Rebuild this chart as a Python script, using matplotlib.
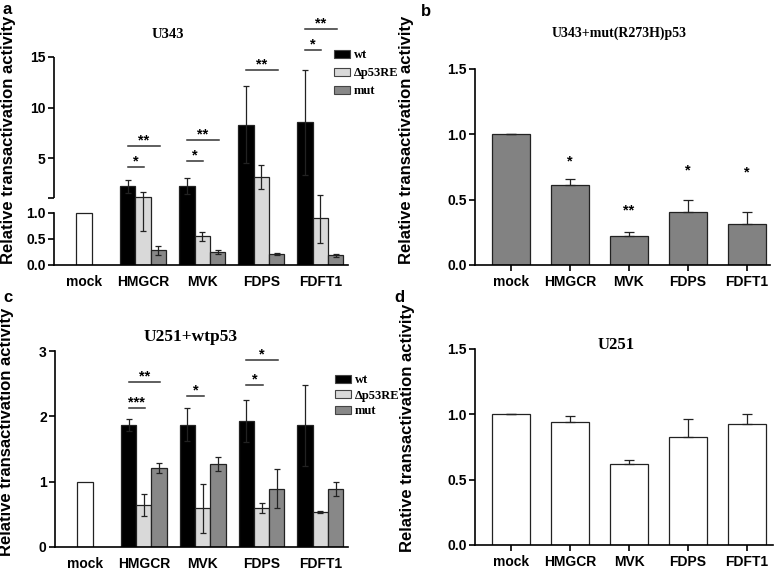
import numpy as np
import matplotlib.pyplot as plt
from matplotlib.patches import Patch

# категории и серии
cats = ['mock', 'HMGCR', 'MVK', 'FDPS', 'FDFT1']
series = ['wt', '\u0394p53RE', 'mut']
series_colors = ['#000000', '#d9d9d9', '#888888']

# panel a, U343
a_mock = 1.0
a_wt = [2.24, 2.3, 8.3, 8.55]
a_wt_err = [0.62, 0.8, 3.8, 5.2]
a_del = [1.15, 0.55, 3.12, 0.9]
a_del_err = [0.5, 0.09, 1.18, 0.48]
a_mut = [0.28, 0.25, 0.21, 0.19]
a_mut_err = [0.09, 0.03, 0.02, 0.03]
# (категория, от серии, до серии, y, метка)
a_brackets = [(1, 0, 1, 4.11, '*'), (1, 0, 2, 6.25, '**'),
              (2, 0, 1, 4.7, '*'), (2, 0, 2, 6.84, '**'),
              (3, 0, 2, 13.75, '**'),
              (4, 0, 1, 15.72, '*'), (4, 0, 2, 17.8, '**')]

# panel b, U343+mut(R273H)p53
b_vals = [1.0, 0.613, 0.222, 0.409, 0.314]
b_err = [0, 0.047, 0.034, 0.085, 0.09]
b_stars = ['', '*', '**', '*', '*']
b_star_y = [0, 0.79, 0.42, 0.72, 0.71]

# panel c, U251+wtp53
c_mock = 1.0
c_wt = [1.865, 1.875, 1.93, 1.86]
c_wt_err = [0.09, 0.26, 0.32, 0.62]
c_del = [0.64, 0.59, 0.60, 0.537]
c_del_err = [0.17, 0.375, 0.077, 0.02]
c_mut = [1.21, 1.27, 0.895, 0.884]
c_mut_err = [0.075, 0.1, 0.3, 0.11]
c_brackets = [(1, 0, 1, 2.13, '***'), (1, 0, 2, 2.53, '**'),
              (2, 0, 1, 2.31, '*'),
              (3, 0, 1, 2.48, '*'), (3, 0, 2, 2.86, '*')]

# panel d, U251
d_vals = [1.0, 0.94, 0.621, 0.825, 0.928]
d_err = [0, 0.044, 0.033, 0.136, 0.074]

W, H = 777, 571
SANS = 'Liberation Sans'
SERIF = 'Liberation Serif'
plt.rcParams['font.family'] = SANS


def px_axes(fig, left, right, top, bottom):
    return fig.add_axes([left / W, 1 - bottom / H, (right - left) / W, (bottom - top) / H])


def style(ax, xticks_visible):
    for s in ['top', 'right']:
        ax.spines[s].set_visible(False)
    for s in ['left', 'bottom']:
        ax.spines[s].set_linewidth(1.2)
    ax.tick_params(axis='y', direction='out', length=4, width=1.2, labelsize=10, pad=2)
    ax.tick_params(axis='x', direction='out', length=4 if xticks_visible else 0,
                   width=1.2, labelsize=10, pad=3 if xticks_visible else 7)
    ax.set_xticks(range(len(cats)))
    ax.set_xticklabels(cats)
    for lab in ax.get_xticklabels() + ax.get_yticklabels():
        lab.set_fontweight('bold')


def grouped(ax, mock, vals, errs, w=0.26):
    ax.bar(0, mock, w, color='white', edgecolor='#222222', linewidth=0.9)
    x = np.arange(1, len(cats))
    for k in range(3):
        xs = x + (k - 1) * w
        ax.bar(xs, vals[k], w, color=series_colors[k], edgecolor='#222222', linewidth=0.9)
        ax.errorbar(xs, vals[k], yerr=errs[k], fmt='none', ecolor='#222222',
                    elinewidth=0.9, capsize=2.5, capthick=0.9)


def brackets(ax, items, w=0.26):
    for ci, s0, s1, y, lab in items:
        x0 = ci + (s0 - 1) * w
        x1 = ci + (s1 - 1) * w + 0.02
        ax.plot([x0, x1], [y, y], color='#333333', lw=1.1, clip_on=False)
        ax.annotate(lab, ((x0 + x1) / 2, y), xytext=(0, -1), textcoords='offset points',
                    ha='center', va='bottom', fontsize=10.5, fontweight='bold',
                    annotation_clip=False)


fig = plt.figure(figsize=(W / 100, H / 100), dpi=100)


# ломаная ось для панели a
def fwd(v):
    v = np.asarray(v, dtype=float)
    return np.where(v <= 1, v * 52, np.where(v <= 1.1, 52 + (v - 1) * 150, 67 + (v - 1.1) * 10.1))


def inv(p):
    p = np.asarray(p, dtype=float)
    return np.where(p <= 52, p / 52, np.where(p <= 67, 1 + (p - 52) / 150, 1.1 + (p - 67) / 10.1))


# a
ax = px_axes(fig, 54, 348, 57, 265)
ax.set_yscale('function', functions=(fwd, inv))
grouped(ax, a_mock, [a_wt, a_del, a_mut], [a_wt_err, a_del_err, a_mut_err])
ax.set_xlim(-0.51, 4.47)
ax.set_ylim(0, 15)
ax.set_yticks([0, 0.5, 1, 1.1, 5, 10, 15])
ax.set_yticklabels(['0.0', '0.5', '1.0', '', '5', '10', '15'])
style(ax, False)
ax.spines['left'].set_bounds(0, 1)
ax.plot([0, 0], [1.1, 15], color='black', lw=1.2, transform=ax.get_yaxis_transform(),
        clip_on=False, solid_capstyle='butt')
brackets(ax, a_brackets)

# b
ax = px_axes(fig, 475, 770, 69, 265)
ax.bar(range(len(cats)), b_vals, 0.65, color='#828282', edgecolor='#222222', linewidth=0.9)
ax.errorbar(range(len(cats)), b_vals, yerr=[np.zeros(len(cats)), b_err], fmt='none',
            ecolor='#222222', elinewidth=0.9, capsize=3.5, capthick=0.9)
for i, s in enumerate(b_stars):
    if s:
        ax.text(i, b_star_y[i], s, ha='center', va='center', fontsize=10.5, fontweight='bold')
ax.set_xlim(-0.61, 4.39)
ax.set_ylim(0, 1.5)
ax.set_yticks([0, 0.5, 1.0, 1.5])
ax.set_yticklabels(['0.0', '0.5', '1.0', '1.5'])
style(ax, True)

# c
ax = px_axes(fig, 55, 348, 351, 547)
grouped(ax, c_mock, [c_wt, c_del, c_mut], [c_wt_err, c_del_err, c_mut_err])
ax.set_xlim(-0.51, 4.47)
ax.set_ylim(0, 3)
ax.set_yticks([0, 1, 2, 3])
style(ax, False)
brackets(ax, c_brackets)

# d
ax = px_axes(fig, 475, 773, 349, 545)
ax.bar(range(len(cats)), d_vals, 0.65, color='white', edgecolor='#222222', linewidth=0.9)
ax.errorbar(range(len(cats)), d_vals, yerr=[np.zeros(len(cats)), d_err], fmt='none',
            ecolor='#222222', elinewidth=0.9, capsize=3.5, capthick=0.9)
ax.set_xlim(-0.61, 4.44)
ax.set_ylim(0, 1.5)
ax.set_yticks([0, 0.5, 1.0, 1.5])
ax.set_yticklabels(['0.0', '0.5', '1.0', '1.5'])
style(ax, True)

# легенды
handles = [Patch(facecolor=c, edgecolor='#444444', linewidth=0.8) for c in series_colors]
for lx, ly, sp in [(334, 49, 0.5), (335, 374, 0.28)]:
    fig.legend(handles, series, loc='upper left', bbox_to_anchor=(lx / W, 1 - ly / H),
               frameon=False, borderpad=0, borderaxespad=0, handlelength=1.3,
               handleheight=0.6, handletextpad=0.3, labelspacing=sp,
               prop={'family': SERIF, 'weight': 'bold', 'size': 9})

# заголовки
for tx, ty, t, fs in [(168, 34, 'U343', 10.5), (619, 33, 'U343+mut(R273H)p53', 10),
                      (191, 337, 'U251+wtp53', 12.5), (616, 345, 'U251', 12)]:
    fig.text(tx / W, 1 - ty / H, t, ha='center', va='center', family=SERIF,
             fontweight='bold', fontsize=fs)

# подписи оси y и буквы панелей
for tx, ty in [(9, 140), (407, 140), (7, 432), (408, 428)]:
    fig.text(tx / W, 1 - ty / H, 'Relative transactivation activity', rotation=90,
             ha='center', va='center', fontsize=12, fontweight='bold')
for tx, ty, t in [(7, 9, 'a'), (426, 12, 'b'), (8, 297, 'c'), (399, 297, 'd')]:
    fig.text(tx / W, 1 - ty / H, t, ha='center', va='center', fontsize=12, fontweight='bold')

plt.savefig('out.png', dpi=100)
